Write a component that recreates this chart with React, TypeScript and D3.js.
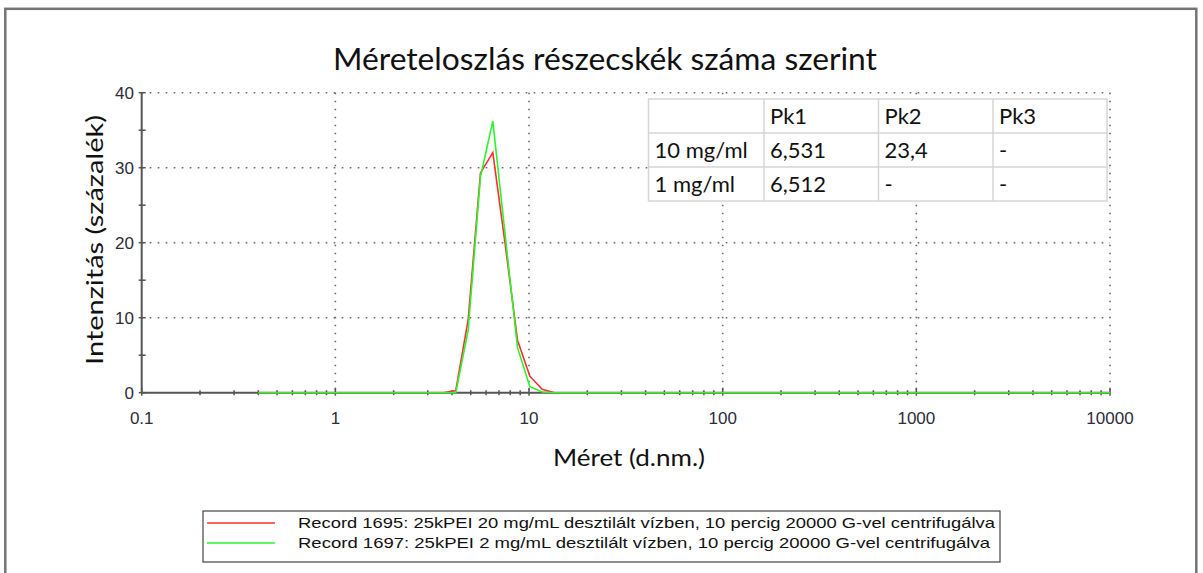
import React from "react";
import * as d3 from "d3";

// Size bins (d.nm.)
const sizes = [
  0.4, 0.4632, 0.5365, 0.6213, 0.7195, 0.8332, 0.9649, 1.117, 1.294, 1.499,
  1.736, 2.01, 2.328, 2.696, 3.122, 3.615, 4.187, 4.849, 5.615, 6.503,
  7.531, 8.721, 10.1, 11.7, 13.54, 15.69, 18.17, 21.04, 24.36, 28.21,
  32.67, 37.84, 43.82, 50.75, 58.77, 68.06, 78.82, 91.28, 105.7, 122.4,
  141.8, 164.2, 190.1, 220.2, 255.0, 295.3, 342.0, 396.1, 458.7, 531.2,
  615.1, 712.4, 825.0, 955.4, 1106, 1281, 1484, 1718, 1990, 2305,
  2669, 3091, 3580, 4145, 4801, 5560, 6439, 7456, 8635, 10000,
];

// Record 1695 (red)
const record1695 = [
  0, 0, 0, 0, 0, 0, 0, 0, 0, 0,
  0, 0, 0, 0, 0, 0, 0.3, 9.7, 29.3, 32.0,
  19.8, 7.0, 2.2, 0.45, 0, 0, 0, 0, 0, 0,
  0, 0, 0, 0, 0, 0, 0, 0, 0, 0,
  0, 0, 0, 0, 0, 0, 0, 0, 0, 0,
  0, 0, 0, 0, 0, 0, 0, 0, 0, 0,
  0, 0, 0, 0, 0, 0, 0, 0, 0, 0,
];

// Record 1697 (green)
const record1697 = [
  0, 0, 0, 0, 0, 0, 0, 0, 0, 0,
  0, 0, 0, 0, 0, 0, 0, 8.3, 28.8, 36.2,
  21.0, 6.0, 0.8, 0.1, 0, 0, 0, 0, 0, 0,
  0, 0, 0, 0, 0, 0, 0, 0, 0, 0,
  0, 0, 0, 0, 0, 0, 0, 0, 0, 0,
  0, 0, 0, 0, 0, 0, 0, 0, 0, 0,
  0, 0, 0, 0, 0, 0, 0, 0, 0, 0,
];

const yTicks = [0, 10, 20, 30, 40];
const yMinorTicks = [5, 15, 25, 35];
const xTicks = [0.1, 1, 10, 100, 1000, 10000];
const xTickLabels = ["0.1", "1", "10", "100", "1000", "10000"];
const xMinorMultipliers = [2, 3, 4, 5, 6, 7, 8, 9];

const tableHeader = ["", "Pk1", "Pk2", "Pk3"];
const tableRows = [
  ["10 mg/ml", "6,531", "23,4", "-"],
  ["1 mg/ml", "6,512", "-", "-"],
];

const seriesNames = [
  "Record 1695: 25kPEI 20 mg/mL desztilált vízben, 10 percig 20000 G-vel centrifugálva",
  "Record 1697: 25kPEI 2 mg/mL desztilált vízben, 10 percig 20000 G-vel centrifugálva",
];
const seriesColors = ["#ff2e2e", "#2bf52b"];

const title = "Méreteloszlás részecskék száma szerint";
const xLabel = "Méret (d.nm.)";
const yLabel = "Intenzitás (százalék)";

export default function App() {
  const W = 1203;
  const H = 573;
  const x = d3.scaleLog().domain([0.1, 10000]).range([141.7, 1110]);
  const y = d3.scaleLinear().domain([0, 40]).range([392.7, 92.7]);

  const line = d3
    .line<number>()
    .x((_, i) => x(sizes[i]))
    .y((d) => y(d));

  const minorX: number[] = [];
  for (const d of xTicks.slice(0, -1)) {
    for (const m of xMinorMultipliers) minorX.push(d * m);
  }

  const tickFont = "'Liberation Sans', Arial, sans-serif";
  const calFont = "Lato, 'Open Sans', sans-serif";

  // table geometry
  const colX = [648.5, 764, 878.5, 993, 1107];
  const rowY = [99, 133, 167, 201];

  return (
    <svg width={W} height={H} style={{ display: "block", position: "absolute", left: 0, top: 0 }}>
      <rect x={0} y={0} width={W} height={H} fill="#fff" />
      <rect x={5.3} y={8.8} width={1191} height={620} fill="none" stroke="#747474" strokeWidth={2.5} />

      <text
        x={605}
        y={70}
        textAnchor="middle"
        fontFamily={calFont}
        fontSize={30}
        textLength={544}
        lengthAdjust="spacingAndGlyphs"
        fill="#111"
      >
        {title}
      </text>

      {/* gridlines */}
      {yTicks.slice(1).map((t) => (
        <line
          key={"gy" + t}
          x1={x(0.1)}
          x2={x(10000)}
          y1={y(t)}
          y2={y(t)}
          stroke="#666"
          strokeWidth={1.6}
          strokeDasharray="1.6 6.4"
        />
      ))}
      {xTicks.slice(1).map((t) => (
        <line
          key={"gx" + t}
          x1={x(t)}
          x2={x(t)}
          y1={y(40)}
          y2={y(0)}
          stroke="#666"
          strokeWidth={1.6}
          strokeDasharray="1.6 6.4"
        />
      ))}

      {/* table */}
      <rect
        x={colX[0]}
        y={rowY[0]}
        width={colX[4] - colX[0]}
        height={rowY[3] - rowY[0]}
        fill="#fff"
        stroke="#d6d6d6"
        strokeWidth={1.5}
      />
      {colX.slice(1, 4).map((cx) => (
        <line key={"tc" + cx} x1={cx} x2={cx} y1={rowY[0]} y2={rowY[3]} stroke="#d6d6d6" strokeWidth={1.5} />
      ))}
      {rowY.slice(1, 3).map((ry) => (
        <line key={"tr" + ry} x1={colX[0]} x2={colX[4]} y1={ry} y2={ry} stroke="#d6d6d6" strokeWidth={1.5} />
      ))}
      {[tableHeader, ...tableRows].map((row, ri) =>
        row.map((cell, ci) => (
          <text
            key={"cell" + ri + "_" + ci}
            x={colX[ci] + 6}
            y={rowY[ri] + 25}
            fontFamily={calFont}
            fontSize={22}
            fill="#111"
          >
            {cell}
          </text>
        ))
      )}

      {/* axes */}
      <line x1={x(0.1)} x2={x(0.1)} y1={y(40)} y2={y(0)} stroke="#555" strokeWidth={2} />
      <line x1={x(0.1)} x2={x(10000)} y1={y(0)} y2={y(0)} stroke="#555" strokeWidth={2} />
      {[...yTicks, ...yMinorTicks].map((t) => (
        <line key={"yt" + t} x1={x(0.1) - 3} x2={x(0.1) + 4} y1={y(t)} y2={y(t)} stroke="#555" strokeWidth={1.5} />
      ))}
      {yTicks.map((t) => (
        <text
          key={"yl" + t}
          x={134}
          y={y(t) + 6}
          textAnchor="end"
          fontFamily={tickFont}
          fontSize={17}
          fill="#2c2c3a"
        >
          {t}
        </text>
      ))}
      {minorX.map((t, i) => (
        <line key={"xm" + i} x1={x(t)} x2={x(t)} y1={y(0) - 2.5} y2={y(0) + 2.5} stroke="#555" strokeWidth={1.5} />
      ))}
      {xTicks.map((t) => (
        <line key={"xt" + t} x1={x(t)} x2={x(t)} y1={y(0) - 5} y2={y(0) + 3} stroke="#555" strokeWidth={1.5} />
      ))}
      {xTicks.map((t, i) => (
        <text
          key={"xl" + t}
          x={x(t)}
          y={424}
          textAnchor="middle"
          fontFamily={tickFont}
          fontSize={17}
          fill="#2c2c3a"
        >
          {xTickLabels[i]}
        </text>
      ))}

      {/* series */}
      <path d={line(record1695) || ""} fill="none" stroke={seriesColors[0]} strokeWidth={1.6} />
      <path d={line(record1697) || ""} fill="none" stroke={seriesColors[1]} strokeWidth={1.6} />

      {/* axis labels */}
      <text
        x={629}
        y={466}
        textAnchor="middle"
        fontFamily={calFont}
        fontSize={23}
        textLength={152}
        lengthAdjust="spacingAndGlyphs"
        fill="#111"
      >
        {xLabel}
      </text>
      <text
        transform="translate(103,240) rotate(-90)"
        textAnchor="middle"
        fontFamily={calFont}
        fontSize={23}
        textLength={250}
        lengthAdjust="spacingAndGlyphs"
        fill="#111"
      >
        {yLabel}
      </text>

      {/* legend */}
      <rect x={203} y={511} width={797} height={51} fill="#fff" stroke="#444" strokeWidth={1.2} />
      {seriesNames.map((name, i) => (
        <g key={"lg" + i}>
          <line
            x1={207}
            x2={275}
            y1={523 + i * 20}
            y2={523 + i * 20}
            stroke={seriesColors[i]}
            strokeWidth={1.6}
          />
          <text
            x={298}
            y={528 + i * 20}
            fontFamily={tickFont}
            fontSize={15}
            textLength={i === 0 ? 697 : 692}
            lengthAdjust="spacingAndGlyphs"
            fill="#111"
          >
            {name}
          </text>
        </g>
      ))}
    </svg>
  );
}
